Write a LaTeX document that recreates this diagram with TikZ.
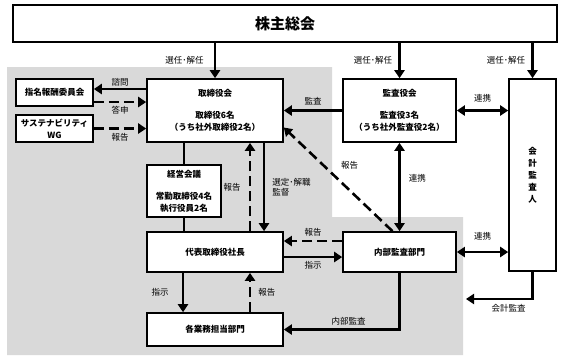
\documentclass[tikz,border=0pt]{standalone}
\usepackage{fontspec}
\setmainfont{Noto Sans CJK JP}
\usetikzlibrary{arrows.meta, positioning, calc}

\begin{document}
\begin{tikzpicture}[
    x=1pt, y=-1pt,
    box/.style={rectangle, draw, line width=1.6pt, fill=white, align=center, inner sep=1pt,
      font=\fontsize{8.5}{12}\selectfont\bfseries},
    lbl/.style={font=\fontsize{8.5}{10}\selectfont, inner sep=2pt, align=left},
    arrow/.style={-{Triangle[length=8pt,width=10pt]}, line width=2.6pt},
    darrow/.style={arrow, dash pattern=on 10pt off 5pt},
    barrow/.style={{Triangle[length=8pt,width=10pt]}-{Triangle[length=8pt,width=10pt]}, line width=2.6pt},
    link/.style={line width=2.6pt}
  ]
  \useasboundingbox (0,0) rectangle (567,357);

  % gray area of the company
  \fill[gray!30] (7,67) -- (332,67) -- (332,217) -- (463,217) -- (463,355) -- (7,355) -- cycle;

  \node[box, minimum width=544pt, minimum height=37pt, font=\fontsize{15}{18}\selectfont\bfseries] (top) at (285,23.5) {株主総会};
  \node[box, minimum width=136pt, minimum height=63pt] (board) at (215,110.5) {取締役会\\[10pt]取締役6名\\（うち社外取締役2名）};
  \node[box, minimum width=113pt, minimum height=63pt] (kansa) at (399.5,110.5) {監査役会\\[10pt]監査役3名\\（うち社外監査役2名）};
  \node[box, minimum width=47pt, minimum height=192pt] (auditor) at (532.5,175) {会\\計\\監\\査\\人};
  \node[box, minimum width=77pt, minimum height=27pt] (nom) at (54.5,92.5) {指名報酬委員会};
  \node[box, minimum width=77pt, minimum height=27pt] (sust) at (54.5,128.5) {サステナビリティ\\WG};
  \node[box, minimum width=74pt, minimum height=52pt] (keiei) at (184,191) {経営会議\\[10pt]常勤取締役4名\\執行役員2名};
  \node[box, minimum width=136pt, minimum height=40pt] (ceo) at (215,252) {代表取締役社長};
  \node[box, minimum width=136pt, minimum height=33pt] (depts) at (215,329.5) {各業務担当部門};
  \node[box, minimum width=113pt, minimum height=40pt] (internal) at (399.5,252) {内部監査部門};
  \coordinate (kaikei) at (466,299);

  % from the shareholders
  \draw[arrow] (top.south -| board.north) -- (board.north) node[lbl, midway, left=8pt] {選任･解任};
  \draw[arrow] (top.south -| kansa.north) -- (kansa.north) node[lbl, midway, left=4pt] {選任･解任};
  \draw[arrow] (top.south -| auditor.north) -- (auditor.north) node[lbl, midway, left=4pt] {選任･解任};

  % committees
  \draw[arrow] ([yshift=3.5pt]nom.east -| board.west) -- ([yshift=3.5pt]nom.east) node[lbl, midway, above] {諮問};
  \draw[darrow] ([yshift=-9.5pt]nom.east) -- ([yshift=-9.5pt]nom.east -| board.west) node[lbl, midway, below=1pt] {答申};
  \draw[darrow] (sust.east) -- (sust.east -| board.west) node[lbl, midway, below=2pt] {報告};

  % audit board
  \draw[arrow] (kansa.west) -- (kansa.west -| board.east) node[lbl, midway, above=2pt] {監査};
  \draw[barrow] (kansa.east) -- (kansa.east -| auditor.west) node[lbl, midway, above=5pt] {連携};
  \draw[barrow] (internal.north) -- (kansa.south) node[lbl, pos=0.6, right=6pt] {連携};
  \draw[darrow] ([xshift=-7pt]internal.north) -- ([yshift=-17pt]board.east) node[lbl, pos=0.64, right=15pt] {報告};

  % board and president
  \draw[link] (keiei.north) -- (keiei.north |- board.south);
  \draw[link] (keiei.south) -- (keiei.south |- ceo.north);
  \draw[darrow] ([xshift=35pt]ceo.north) -- ([xshift=35pt]board.south) node[lbl, midway, left=6pt] {報告};
  \draw[arrow] ([xshift=49pt]board.south) -- ([xshift=49pt]ceo.north) node[lbl, midway, right=5pt] {選定･解職\\監督};

  % president and internal audit
  \draw[darrow] ([yshift=11pt]internal.west) -- ([yshift=11pt]internal.west -| ceo.east) node[lbl, midway, above=1pt] {報告};
  \draw[arrow] ([yshift=-5pt]ceo.east) -- ([yshift=-5pt]ceo.east -| internal.west) node[lbl, midway, below=1pt] {指示};

  % president and departments
  \draw[arrow] ([xshift=-32pt]ceo.south) -- ([xshift=-32pt]depts.north) node[lbl, midway, left=11pt] {指示};
  \draw[darrow] ([xshift=35pt]depts.north) -- ([xshift=35pt]ceo.south) node[lbl, midway, right=5pt] {報告};
  \draw[arrow] (internal.south) |- (depts.east) node[lbl, pos=0.72, above=1pt] {内部監査};

  % accounting auditor
  \draw[barrow] (internal.east) -- (internal.east -| auditor.west) node[lbl, midway, above=9pt] {連携};
  \draw[arrow] (auditor.south) |- (kaikei) node[lbl, pos=0.68, below=2pt] {会計監査};
\end{tikzpicture}
\end{document}
